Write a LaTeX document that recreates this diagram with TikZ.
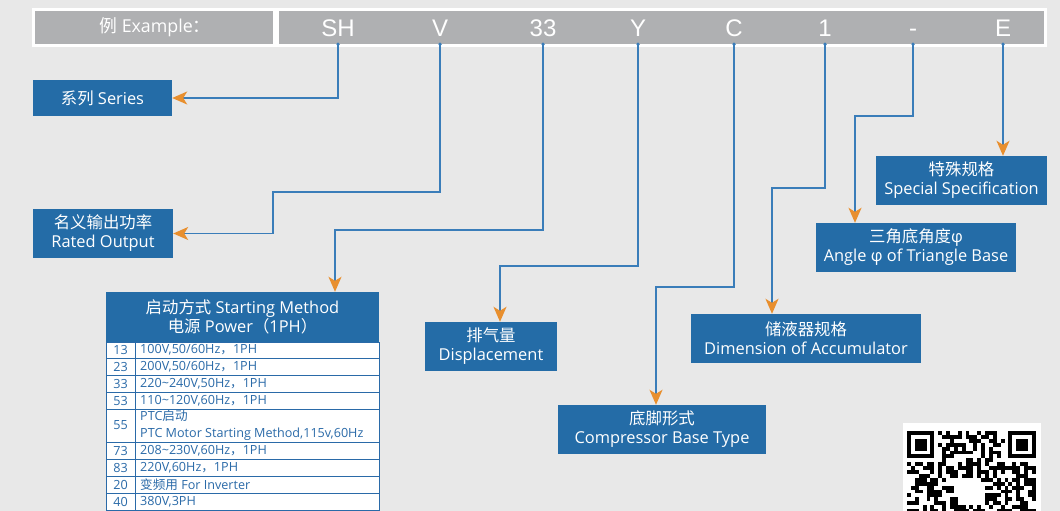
\documentclass[tikz,border=0pt]{standalone}
\usepackage{fontspec}
\setmainfont{Open Sans}
\newfontfamily\cjk{Noto Sans CJK SC}
\newfontfamily\codefont{Liberation Sans}
\newcommand{\zh}[1]{{\cjk #1}}
\usetikzlibrary{arrows.meta}
\definecolor{bg}{HTML}{E8E8E8}
\definecolor{hdr}{HTML}{AFB0B2}
\definecolor{boxblue}{HTML}{246CA7}
\definecolor{lineblue}{HTML}{3A7DB9}
\definecolor{arr}{HTML}{E88F2E}
\definecolor{tblue}{HTML}{2A6AA8}
\begin{document}
\begin{tikzpicture}[x=1pt,y=-1pt,
  conn/.style={draw=lineblue, line width=1.6pt, -{Stealth[length=15pt,width=13pt,inset=4pt,color=arr]}},
  code/.style={text=white, font=\codefont\fontsize{24}{24}\selectfont, minimum height=33pt, text height=17.2pt, text depth=0pt, inner sep=0pt},
  bluebox/.style={fill=boxblue, text=white, inner sep=0pt, align=center, font=\fontsize{16.4}{19}\selectfont},
  num/.style={text=tblue, font=\fontsize{12.6}{14}\selectfont, inner sep=0pt},
  cell/.style={text=tblue, font=\fontsize{12.6}{17}\selectfont, inner sep=0pt, anchor=west, align=left},
  tline/.style={draw=tblue, line width=0.8pt}
]
\useasboundingbox (0,0) rectangle (1060,511);
\fill[bg] (0,0) rectangle (1060,511);

% header bar
\fill[white] (32,8) rectangle (1047,47);
\fill[hdr] (35,11) rectangle (273,44);
\fill[hdr] (279,11) rectangle (1044,44);
\node[text=white, font=\fontsize{17.8}{18}\selectfont, inner sep=0pt] (ex) at (155,27.5) {\zh{例} Example\zh{：}};
\node[code] (sh) at (338,27.5) {SH};
\node[code] (v) at (440,27.5) {V};
\node[code] (n33) at (543,27.5) {33};
\node[code] (y) at (638,27.5) {Y};
\node[code] (c) at (734,27.5) {C};
\node[code] (one) at (825,27.5) {1};
\node[code] (dash) at (913,27.5) {-};
\node[code] (e) at (1003,27.5) {E};

% boxes
\node[bluebox, minimum width=139pt, minimum height=36pt] (series) at (102.5,98) {\zh{系列} Series};
\node[bluebox, minimum width=140pt, minimum height=49pt] (rated) at (103,233.5) {\zh{名义输出功率}\\Rated Output};
\node[bluebox, minimum width=132pt, minimum height=49pt] (disp) at (491,346.5) {\zh{排气量}\\Displacement};
\node[bluebox, minimum width=208pt, minimum height=49pt] (base) at (662,429.5) {\zh{底脚形式}\\Compressor Base Type};
\node[bluebox, minimum width=230pt, minimum height=49pt] (acc) at (806,338.5) {\zh{储液器规格}\\Dimension of Accumulator};
\node[bluebox, minimum width=200pt, minimum height=49pt] (angle) at (916,247.5) {\zh{三角底角度}φ\\Angle φ of Triangle Base};
\node[bluebox, minimum width=171pt, minimum height=49pt] (special) at (961.5,180.5) {\zh{特殊规格}\\Special Specification};

% table
\node[bluebox, minimum width=273pt, minimum height=50pt] (thead) at (242.5,317) {\zh{启动方式} Starting Method\\\zh{电源} Power\zh{（}1PH\zh{）}};
\draw[tline, fill=white, line width=1pt] (106,342) rectangle (379,510);
\foreach \yy in {358,375,392,409,442,459,476,493} \draw[tline] (106,\yy) -- (379,\yy);
\draw[tline] (135,342) -- (135,510);
\node[num] (r1n) at (120.5,350) {13};
\node[cell] (r1t) at (140,350) {100V,50/60Hz\zh{，}1PH};
\node[num] (r2n) at (120.5,366.5) {23};
\node[cell] (r2t) at (140,366.5) {200V,50/60Hz\zh{，}1PH};
\node[num] (r3n) at (120.5,383.5) {33};
\node[cell] (r3t) at (140,383.5) {220\textasciitilde240V,50Hz\zh{，}1PH};
\node[num] (r4n) at (120.5,400.5) {53};
\node[cell] (r4t) at (140,400.5) {110\textasciitilde120V,60Hz\zh{，}1PH};
\node[num] (r5n) at (120.5,425.5) {55};
\node[cell] (r5t) at (140,425.5) {PTC\zh{启动}\\PTC Motor Starting Method,115v,60Hz};
\node[num] (r6n) at (120.5,450.5) {73};
\node[cell] (r6t) at (140,450.5) {208\textasciitilde230V,60Hz\zh{，}1PH};
\node[num] (r7n) at (120.5,467.5) {83};
\node[cell] (r7t) at (140,467.5) {220V,60Hz\zh{，}1PH};
\node[num] (r8n) at (120.5,484.5) {20};
\node[cell] (r8t) at (140,484.5) {\zh{变频用} For Inverter};
\node[num] (r9n) at (120.5,501.5) {40};
\node[cell] (r9t) at (140,501.5) {380V,3PH};

% connectors
\coordinate (kv) at (273,192);
\coordinate (k33) at (335,230);
\coordinate (ky) at (500,266);
\coordinate (kc) at (656,287);
\coordinate (k1) at (772,188);
\coordinate (kd) at (855,116);
\draw[conn] (sh.south) |- (series.east);
\draw[conn] (v.south) |- (kv) |- (rated.east);
\draw[conn] (n33.south) |- (k33) -- (k33 |- thead.north);
\draw[conn] (y.south) |- (ky) -- (ky |- disp.north);
\draw[conn] (c.south) |- (kc) -- (kc |- base.north);
\draw[conn] (one.south) |- (k1) -- (k1 |- acc.north);
\draw[conn] (dash.south) |- (kd) -- (kd |- angle.north);
\draw[conn] (e.south) -- (e.south |- special.north);
\foreach \nd in {sh,v,n33,y,c,one,dash,e} \fill[lineblue] (\nd.south) circle (1.8pt);

% QR code
\begin{scope}
\clip (903,423) rectangle (1041,511);
\fill[white] (903,423) rectangle (1041,511);
\pgfmathsetseed{7}
\foreach \i in {0,...,32}{
  \foreach \j in {0,...,20}{
    \pgfmathrandominteger{\q}{0}{1}
    \pgfmathtruncatemacro{\skp}{(((\i<8)&&(\j<8))||((\i>24)&&(\j<8))||((\i>12)&&(\i<20)&&(\j>12)&&(\j<19))) ? 1 : 0}
    \ifnum\q=1 \ifnum\skp=0 \fill[black] (907+\i*3.9,431+\j*3.9) rectangle ++(3.9,3.9); \fi\fi
  }
}
\foreach \fx in {907,1008.4}{
  \fill[black] (\fx,431) rectangle ++(27.3,27.3);
  \fill[white] (\fx+3.9,434.9) rectangle ++(19.5,19.5);
  \fill[black] (\fx+7.8,438.8) rectangle ++(11.7,11.7);
}
\end{scope}
\end{tikzpicture}
\end{document}
